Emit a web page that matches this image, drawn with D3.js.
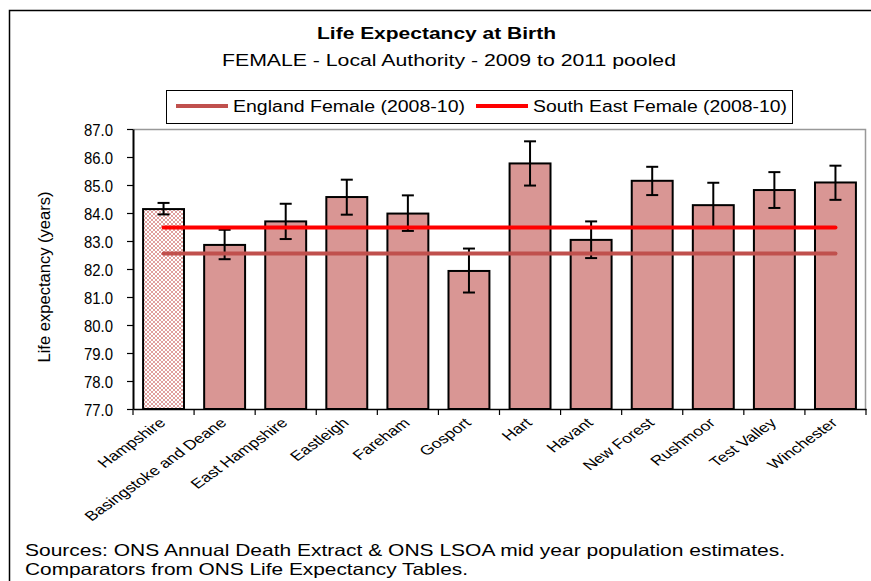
<!DOCTYPE html>
<html><head>
<script src="https://d3js.org/d3.v7.min.js"></script>
<style>
  body { margin: 0; background: #fff; }
  text { font-family: "Liberation Sans", Arial, sans-serif; fill: #000; }
</style>
</head>
<body>
<svg id="svg1" width="871" height="581"></svg>
<script>
// data
const areas = ["Hampshire", "Basingstoke and Deane", "East Hampshire", "Eastleigh", "Fareham", "Gosport",
               "Hart", "Havant", "New Forest", "Rushmoor", "Test Valley", "Winchester"];
const lifeExp = [84.14, 82.86, 83.70, 84.57, 83.98, 81.93, 85.77, 83.04, 85.15, 84.28, 84.82, 85.09];
const ciLower = [83.95, 82.35, 83.07, 83.94, 83.36, 81.16, 84.98, 82.39, 84.64, 83.47, 84.18, 84.47];
const ciUpper = [84.36, 83.40, 84.33, 85.19, 84.63, 82.73, 86.56, 83.70, 85.65, 85.08, 85.46, 85.69];
const englandFemale = 82.55;
const southEastFemale = 83.48;
const yTicks = [77, 78, 79, 80, 81, 82, 83, 84, 85, 86, 87];

let svg1 = d3.select("svg#svg1");
const m = {top: 129, right: 5, bottom: 172, left: 133};
const chWidth = 866 - m.left;
const chHeight = 409 - m.top;

// pattern for the county bar
let defs = svg1.append("defs");
let pat = defs.append("pattern").attr("id", "checks")
              .attr("width", 4).attr("height", 4).attr("patternUnits", "userSpaceOnUse");
pat.append("rect").attr("width", 4).attr("height", 4).attr("fill", "#fff");
pat.append("rect").attr("width", 2).attr("height", 2).attr("fill", "#e0a09e");
pat.append("rect").attr("x", 2).attr("y", 2).attr("width", 2).attr("height", 2).attr("fill", "#e0a09e");

// outer frame
svg1.append("path").attr("d", "M9.5,581 V10.5 H871").attr("fill", "none").attr("stroke", "#000").attr("stroke-width", 1.5);

// titles (the original text is drawn wide, so stretch to its measured width)
svg1.append("text").attr("x", 317).attr("y", 39)
    .style("font-size", "17px").style("font-weight", "bold")
    .attr("textLength", 239).attr("lengthAdjust", "spacingAndGlyphs")
    .text("Life Expectancy at Birth");
svg1.append("text").attr("x", 222).attr("y", 66)
    .style("font-size", "16px")
    .attr("textLength", 454).attr("lengthAdjust", "spacingAndGlyphs")
    .text("FEMALE - Local Authority - 2009 to 2011 pooled");

let xScale = d3.scaleBand().domain(areas).range([0, chWidth]).paddingInner(0.33).paddingOuter(0.165);
let yScale = d3.scaleLinear().domain([77, 87]).range([chHeight, 0]);

let chart = svg1.append("g").attr("transform", `translate(${m.left},${m.top})`);

// plot area border
chart.append("path").attr("d", `M0,0.5 H${chWidth - 0.5} V${chHeight}`)
     .attr("fill", "none").attr("stroke", "#999").attr("stroke-width", 1.5);

// bars
chart.selectAll("rect.bar").data(areas).join("rect")
     .attr("class", "bar")
     .attr("x", d => xScale(d))
     .attr("width", xScale.bandwidth())
     .attr("y", (d, i) => yScale(lifeExp[i]))
     .attr("height", (d, i) => chHeight - yScale(lifeExp[i]))
     .attr("fill", (d, i) => i == 0 ? "url(#checks)" : "#d99694")
     .attr("stroke", "#000").attr("stroke-width", 2);

// error bars
let errs = chart.selectAll("g.err").data(areas).join("g").attr("class", "err")
     .attr("transform", d => `translate(${xScale(d) + xScale.bandwidth() / 2},0)`);
errs.append("line").attr("y1", (d, i) => yScale(ciLower[i])).attr("y2", (d, i) => yScale(ciUpper[i]));
errs.append("line").attr("x1", -6).attr("x2", 6).attr("y1", (d, i) => yScale(ciLower[i])).attr("y2", (d, i) => yScale(ciLower[i]));
errs.append("line").attr("x1", -6).attr("x2", 6).attr("y1", (d, i) => yScale(ciUpper[i])).attr("y2", (d, i) => yScale(ciUpper[i]));
errs.selectAll("line").attr("stroke", "#000").attr("stroke-width", 2);

// comparator lines
const x0 = xScale(areas[0]) + xScale.bandwidth() / 2;
const x1 = xScale(areas[areas.length - 1]) + xScale.bandwidth() / 2;
const refs = [{v: englandFemale, c: "#c0504d"}, {v: southEastFemale, c: "#ff0000"}];
chart.selectAll("line.ref").data(refs).join("line").attr("class", "ref")
     .attr("x1", x0).attr("x2", x1)
     .attr("y1", d => yScale(d.v)).attr("y2", d => yScale(d.v))
     .attr("stroke", d => d.c).attr("stroke-width", 4).attr("stroke-linecap", "round");

// axes
let leftAxis = d3.axisLeft(yScale).tickValues(yTicks).tickSize(6).tickSizeOuter(0).tickFormat(d3.format(".1f"));
let yAx = chart.append("g").call(leftAxis);
yAx.select(".domain").attr("stroke-width", 2);
yAx.selectAll("line").attr("stroke-width", 1.2);
yAx.selectAll("text").style("font-size", "17px").attr("x", -20).attr("dy", "0.36em")
   .attr("textLength", 29).attr("lengthAdjust", "spacingAndGlyphs");

let bottomAxis = d3.axisBottom(xScale).tickSize(0).tickSizeOuter(0);
let xAx = chart.append("g").attr("transform", `translate(0,${chHeight})`).call(bottomAxis);
xAx.select(".domain").attr("stroke-width", 1.5);
xAx.selectAll("text").style("font-size", "13.5px")
   .attr("text-anchor", "end").attr("dy", 0).attr("y", 0)
   .attr("transform", "translate(3,15) scale(1.3,1) rotate(-43)");
// boundary ticks between categories
chart.selectAll("line.xt").data(d3.range(areas.length + 1)).join("line").attr("class", "xt")
     .attr("x1", i => i * chWidth / areas.length).attr("x2", i => i * chWidth / areas.length)
     .attr("y1", chHeight).attr("y2", chHeight + 6)
     .attr("stroke", "#000").attr("stroke-width", 1.2);

// y title
svg1.append("text").attr("transform", "translate(50,277) rotate(-90)").attr("text-anchor", "middle")
    .style("font-size", "16px").attr("textLength", 171).attr("lengthAdjust", "spacingAndGlyphs")
    .text("Life expectancy (years)");

// legend
let leg = svg1.append("g");
leg.append("rect").attr("x", 166.5).attr("y", 90.5).attr("width", 626).attr("height", 33)
   .attr("fill", "#fff").attr("stroke", "#000").attr("stroke-width", 1);
const legItems = [{t: "England Female (2008-10)", c: "#c0504d", x: 176, w: 232},
                  {t: "South East Female (2008-10)", c: "#ff0000", x: 476, w: 254}];
leg.selectAll("line").data(legItems).join("line")
   .attr("x1", d => d.x).attr("x2", d => d.x + 52).attr("y1", 106).attr("y2", 106)
   .attr("stroke", d => d.c).attr("stroke-width", 4);
leg.selectAll("text").data(legItems).join("text")
   .attr("x", d => d.x + 57).attr("y", 112).style("font-size", "16px")
   .attr("textLength", d => d.w).attr("lengthAdjust", "spacingAndGlyphs").text(d => d.t);

// sources
svg1.append("text").attr("x", 25).attr("y", 556).style("font-size", "16.5px")
    .attr("textLength", 760).attr("lengthAdjust", "spacingAndGlyphs")
    .text("Sources: ONS Annual Death Extract & ONS LSOA mid year population  estimates.");
svg1.append("text").attr("x", 25).attr("y", 575).style("font-size", "16.5px")
    .attr("textLength", 443).attr("lengthAdjust", "spacingAndGlyphs")
    .text("Comparators from ONS Life Expectancy Tables.");
</script>
</body></html>
